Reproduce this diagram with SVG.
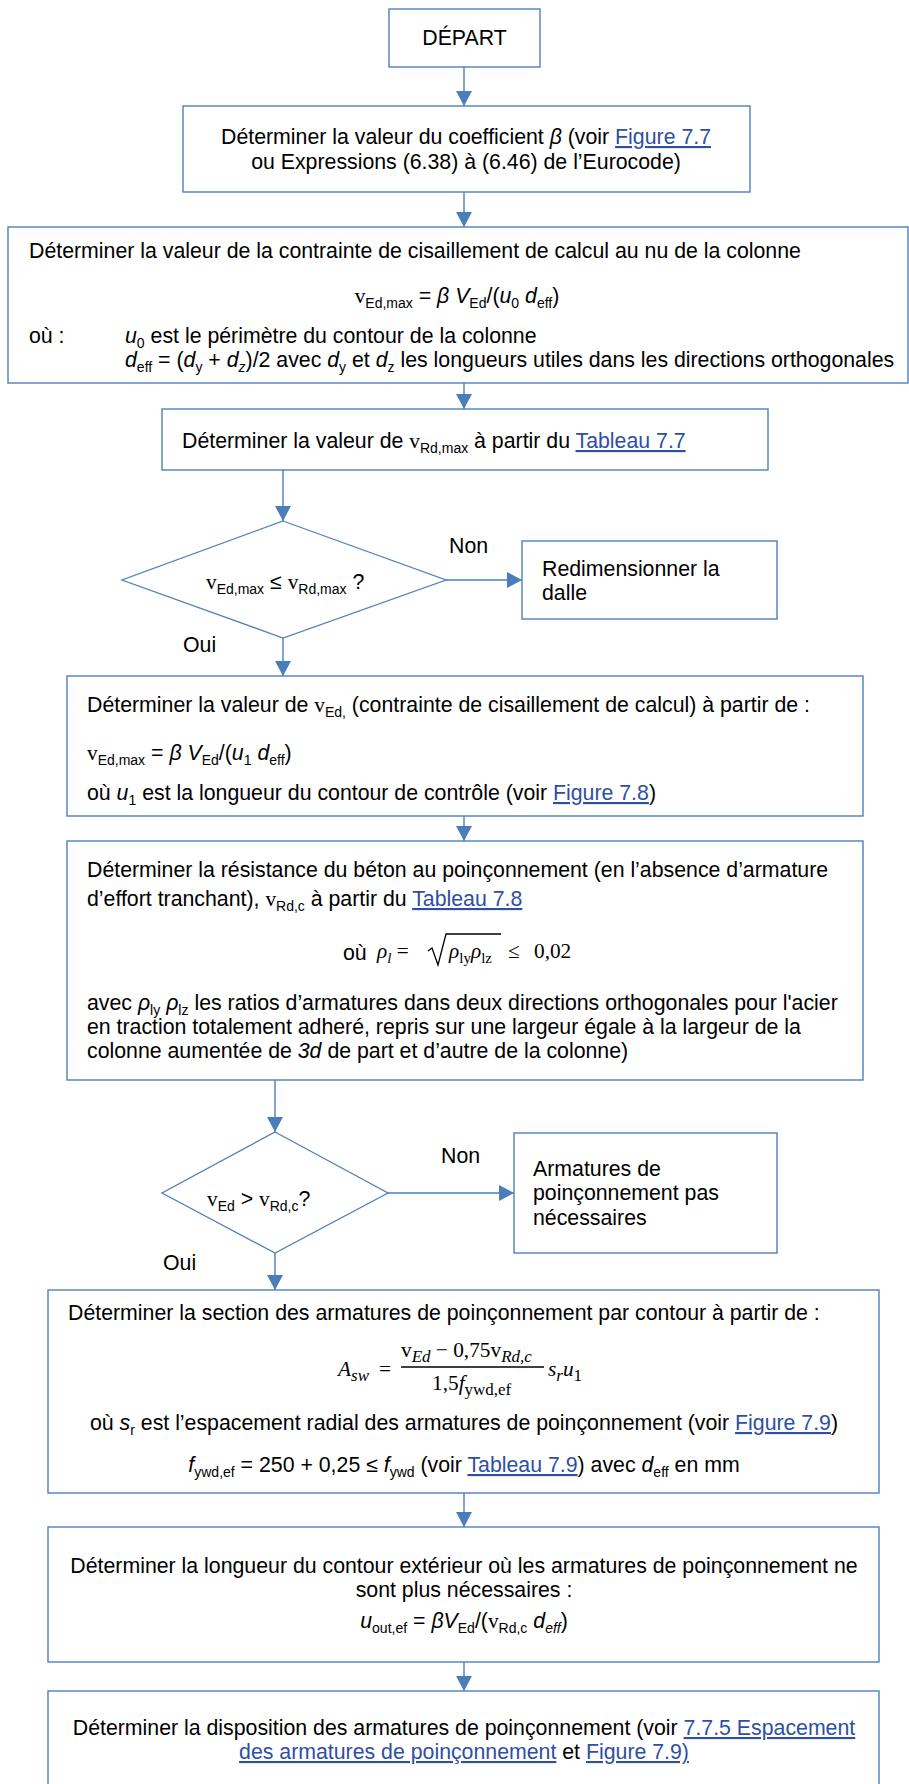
<svg xmlns="http://www.w3.org/2000/svg" width="909" height="1784" viewBox="0 0 909 1784">
<style>
text{font-family:"Liberation Sans",Arial,sans-serif;font-size:21.3px;fill:#000}
.box{fill:#fff;stroke:#4f81bd;stroke-width:1.4}
.dia{fill:#fff;stroke:#4f81bd;stroke-width:1.3}
.conn{stroke:#4a7ebb;stroke-width:1.4;fill:none;marker-end:url(#ah)}
.s{font-size:14px}
.i{font-style:italic}
.sf{font-family:"Liberation Serif","Times New Roman",serif}
.lk{fill:#2e4fa3;text-decoration:underline}
.m{text-anchor:middle}
</style>
<defs>
<marker id="ah" markerUnits="userSpaceOnUse" markerWidth="16" markerHeight="16" refX="15" refY="8" orient="auto">
<path d="M0,0 L15,8 L0,16 z" fill="#4a7ebb"/>
</marker>
</defs>
<rect width="909" height="1784" fill="#fff"/>
<g id="connectors">
<line class="conn" x1="464" y1="67" x2="464" y2="106"/>
<line class="conn" x1="464" y1="192" x2="464" y2="227"/>
<line class="conn" x1="464" y1="383" x2="464" y2="409"/>
<line class="conn" x1="283" y1="470" x2="283" y2="521"/>
<line class="conn" x1="446" y1="580" x2="522" y2="580"/>
<line class="conn" x1="283" y1="638" x2="283" y2="676"/>
<line class="conn" x1="464" y1="816" x2="464" y2="841"/>
<line class="conn" x1="275" y1="1080" x2="275" y2="1132"/>
<line class="conn" x1="388" y1="1193" x2="514" y2="1193"/>
<line class="conn" x1="275" y1="1253" x2="275" y2="1290"/>
<line class="conn" x1="464" y1="1493" x2="464" y2="1527"/>
<line class="conn" x1="464" y1="1662" x2="464" y2="1691"/>
</g>
<g id="depart">
<rect class="box" x="389" y="9" width="151" height="58"/>
<text class="m" x="464.5" y="45">DÉPART</text>
</g>
<g id="coef-beta">
<rect class="box" x="183" y="106" width="567" height="86"/>
<text class="m" x="466" y="144">Déterminer la valeur du coefficient <tspan class="i">β</tspan> (voir <tspan class="lk">Figure 7.7</tspan></text>
<text class="m" x="466" y="169">ou Expressions (6.38) à (6.46) de l’Eurocode)</text>
</g>
<g id="contrainte-nu">
<rect class="box" x="8" y="227" width="900" height="156"/>
<text x="29" y="258">Déterminer la valeur de la contrainte de cisaillement de calcul au nu de la colonne</text>
<text class="m" x="457" y="303"><tspan class="sf">v</tspan><tspan class="s" dy="5">Ed,max</tspan><tspan dy="-5"> = </tspan><tspan class="i">β V</tspan><tspan class="s" dy="5">Ed</tspan><tspan dy="-5">/(</tspan><tspan class="i">u</tspan><tspan class="s" dy="5">0</tspan><tspan dy="-5"> </tspan><tspan class="i">d</tspan><tspan class="s" dy="5">eff</tspan><tspan dy="-5">)</tspan></text>
<text x="29" y="343">où :</text>
<text x="125" y="343"><tspan class="i">u</tspan><tspan class="s" dy="5">0</tspan><tspan dy="-5"> est le périmètre du contour de la colonne</tspan></text>
<text x="125" y="367"><tspan class="i">d</tspan><tspan class="s" dy="5">eff</tspan><tspan dy="-5"> = (</tspan><tspan class="i">d</tspan><tspan class="s" dy="5">y</tspan><tspan dy="-5"> + </tspan><tspan class="i">d</tspan><tspan class="s i" dy="5">z</tspan><tspan dy="-5">)/2 avec </tspan><tspan class="i">d</tspan><tspan class="s" dy="5">y</tspan><tspan dy="-5"> et </tspan><tspan class="i">d</tspan><tspan class="s" dy="5">z</tspan><tspan dy="-5"> les longueurs utiles dans les directions orthogonales</tspan></text>
</g>
<g id="vrdmax">
<rect class="box" x="162" y="409" width="606" height="61"/>
<text x="182" y="448">Déterminer la valeur de <tspan class="sf">v</tspan><tspan class="s" dy="5">Rd,max</tspan><tspan dy="-5"> à partir du </tspan><tspan class="lk">Tableau 7.7</tspan></text>
</g>
<g id="decision1">
<polygon class="dia" points="283,521 446,580 283,638 122,580"/>
<text x="206" y="589"><tspan class="sf">v</tspan><tspan class="s" dy="5">Ed,max</tspan><tspan dy="-5"> ≤ </tspan><tspan class="sf">v</tspan><tspan class="s" dy="5">Rd,max</tspan><tspan dy="-5"> ?</tspan></text>
<text x="449" y="553">Non</text>
<text x="183" y="652">Oui</text>
</g>
<g id="redimensionner">
<rect class="box" x="522" y="541" width="255" height="78"/>
<text x="542" y="576">Redimensionner la</text>
<text x="542" y="600">dalle</text>
</g>
<g id="ved">
<rect class="box" x="67" y="676" width="796" height="140"/>
<text x="87" y="712">Déterminer la valeur de <tspan class="sf">v</tspan><tspan class="s" dy="5">Ed,</tspan><tspan dy="-5"> (contrainte de cisaillement de calcul) à partir de :</tspan></text>
<text x="87" y="760"><tspan class="sf">v</tspan><tspan class="s" dy="5">Ed,max</tspan><tspan dy="-5"> = </tspan><tspan class="i">β V</tspan><tspan class="s" dy="5">Ed</tspan><tspan dy="-5">/(</tspan><tspan class="i">u</tspan><tspan class="s" dy="5">1</tspan><tspan dy="-5"> </tspan><tspan class="i">d</tspan><tspan class="s" dy="5">eff</tspan><tspan dy="-5">)</tspan></text>
<text x="87" y="800">où <tspan class="i">u</tspan><tspan class="s" dy="5">1</tspan><tspan dy="-5"> est la longueur du contour de contrôle (voir </tspan><tspan class="lk">Figure 7.8</tspan>)</text>
</g>
<g id="vrdc">
<rect class="box" x="67" y="841" width="796" height="239"/>
<text x="87" y="877">Déterminer la résistance du béton au poinçonnement (en l’absence d’armature</text>
<text x="87" y="906">d’effort tranchant), <tspan class="sf">v</tspan><tspan class="s" dy="5">Rd,c</tspan><tspan dy="-5"> à partir du </tspan><tspan class="lk">Tableau 7.8</tspan></text>
<text x="343" y="960">où</text>
<text x="377" y="958" class="sf" font-size="25"><tspan class="i">ρ</tspan><tspan class="i" font-size="15" dy="5">l</tspan><tspan dy="-5"> =</tspan></text>
<polyline points="428,951 432,948 438,965 446,934 501,934" fill="none" stroke="#000" stroke-width="1.3"/>
<text x="449" y="958" class="sf" font-size="25"><tspan class="i">ρ</tspan><tspan font-size="15" dy="5">ly</tspan><tspan class="i" dy="-5">ρ</tspan><tspan font-size="15" dy="5">lz</tspan></text>
<text x="508" y="958" class="sf" font-size="25">≤</text>
<text x="534" y="958" class="sf" font-size="26">0,02</text>
<text x="87" y="1010">avec <tspan class="i">ρ</tspan><tspan class="s" dy="5">ly</tspan><tspan dy="-5"> </tspan><tspan class="i">ρ</tspan><tspan class="s" dy="5">lz</tspan><tspan dy="-5"> les ratios d’armatures dans deux directions orthogonales pour l'acier</tspan></text>
<text x="87" y="1034">en traction totalement adheré, repris sur une largeur égale à la largeur de la</text>
<text x="87" y="1058">colonne aumentée de <tspan class="i">3d</tspan> de part et d’autre de la colonne)</text>
</g>
<g id="decision2">
<polygon class="dia" points="275,1132 388,1193 275,1253 162,1193"/>
<text x="207" y="1206"><tspan class="sf">v</tspan><tspan class="s" dy="5">Ed</tspan><tspan dy="-5"> &gt; </tspan><tspan class="sf">v</tspan><tspan class="s" dy="5">Rd,c</tspan><tspan dy="-5">?</tspan></text>
<text x="441" y="1163">Non</text>
<text x="163" y="1270">Oui</text>
</g>
<g id="pas-necessaires">
<rect class="box" x="514" y="1133" width="263" height="120"/>
<text x="533" y="1176">Armatures de</text>
<text x="533" y="1200">poinçonnement pas</text>
<text x="533" y="1225">nécessaires</text>
</g>
<g id="section-asw">
<rect class="box" x="48" y="1290" width="831" height="203"/>
<text x="68" y="1320">Déterminer la section des armatures de poinçonnement par contour à partir de :</text>
<text x="338" y="1376" class="sf i" font-size="26">A<tspan font-size="17" dy="5">sw</tspan></text>
<text x="379" y="1376" class="sf" font-size="26">=</text>
<text x="401" y="1357" class="sf" font-size="26">v<tspan class="i" font-size="17" dy="5">Ed</tspan><tspan dy="-5"> − 0,75v</tspan><tspan class="i" font-size="17" dy="5">Rd,c</tspan></text>
<line x1="401" y1="1367" x2="544" y2="1367" stroke="#000" stroke-width="1.6"/>
<text x="432" y="1390" class="sf" font-size="26">1,5<tspan class="i">f</tspan><tspan font-size="17" dy="5">ywd,ef</tspan></text>
<text x="548" y="1376" class="sf i" font-size="26">s<tspan font-size="17" dy="5">r</tspan><tspan dy="-5">u</tspan><tspan font-size="17" font-style="normal" dy="5">1</tspan></text>
<text class="m" x="464" y="1430">où <tspan class="i">s</tspan><tspan class="s" dy="5">r</tspan><tspan dy="-5"> est l’espacement radial des armatures de poinçonnement (voir </tspan><tspan class="lk">Figure 7.9</tspan>)</text>
<text class="m" x="464" y="1472"><tspan class="i">f</tspan><tspan class="s" dy="5">ywd,ef</tspan><tspan dy="-5"> = 250 + 0,25 ≤ </tspan><tspan class="i">f</tspan><tspan class="s" dy="5">ywd</tspan><tspan dy="-5"> (voir </tspan><tspan class="lk">Tableau 7.9</tspan>) avec <tspan class="i">d</tspan><tspan class="s" dy="5">eff</tspan><tspan dy="-5"> en mm</tspan></text>
</g>
<g id="uout">
<rect class="box" x="48" y="1527" width="831" height="135"/>
<text class="m" x="464" y="1573">Déterminer la longueur du contour extérieur où les armatures de poinçonnement ne</text>
<text class="m" x="464" y="1597">sont plus nécessaires :</text>
<text class="m" x="464" y="1628"><tspan class="i">u</tspan><tspan class="s" dy="5">out,ef</tspan><tspan dy="-5"> = </tspan><tspan class="i">βV</tspan><tspan class="s" dy="5">Ed</tspan><tspan dy="-5">/(</tspan><tspan class="sf">v</tspan><tspan class="s" dy="5">Rd,c</tspan><tspan dy="-5"> </tspan><tspan class="i">d</tspan><tspan class="s i" dy="5">eff</tspan><tspan dy="-5">)</tspan></text>
</g>
<g id="disposition">
<rect class="box" x="48" y="1691" width="831" height="110"/>
<text class="m" x="464" y="1735">Déterminer la disposition des armatures de poinçonnement (voir <tspan class="lk">7.7.5 Espacement</tspan></text>
<text class="m" x="464" y="1759"><tspan class="lk">des armatures de poinçonnement</tspan> et <tspan class="lk">Figure 7.9)</tspan></text>
</g>
</svg>
